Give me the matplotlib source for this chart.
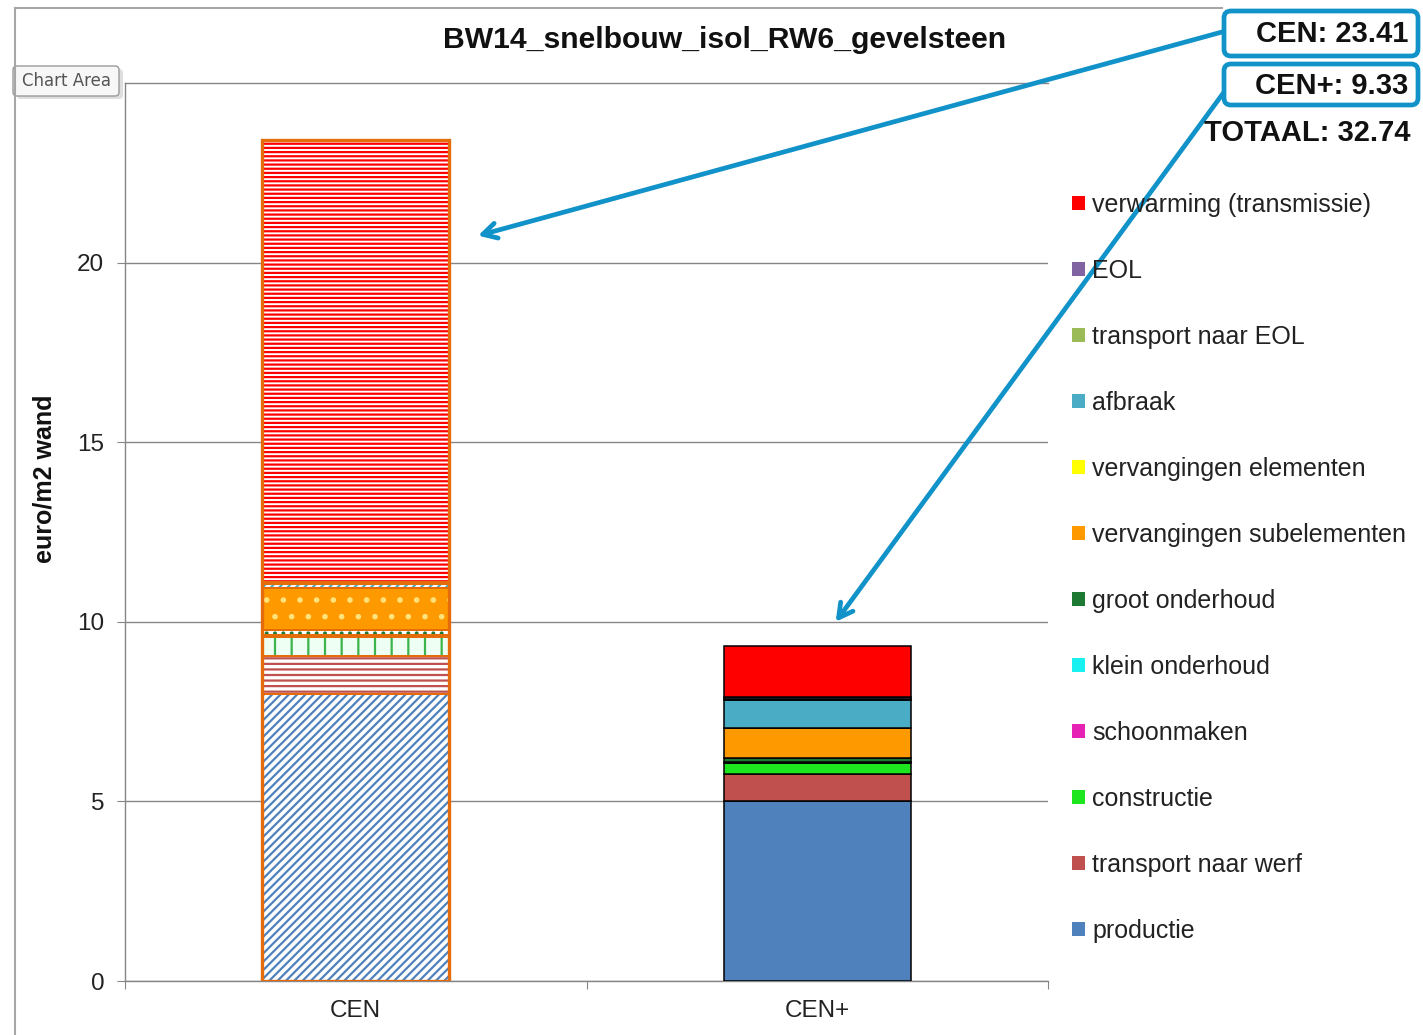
import matplotlib
matplotlib.use("Agg")
import matplotlib.pyplot as plt
import numpy as np
from matplotlib.lines import Line2D
from matplotlib.patches import FancyBboxPatch, Patch
from matplotlib.transforms import IdentityTransform

plt.rcParams["font.family"] = ["Liberation Sans", "DejaVu Sans"]
plt.rcParams["hatch.linewidth"] = 1.6

W, H = 1423, 1035

title = "BW14_snelbouw_isol_RW6_gevelsteen"
categories = ["CEN", "CEN+"]

# stacking order, bottom to top
series = [
    "productie",
    "transport naar werf",
    "constructie",
    "schoonmaken",
    "klein onderhoud",
    "groot onderhoud",
    "vervangingen subelementen",
    "vervangingen elementen",
    "afbraak",
    "transport naar EOL",
    "EOL",
    "verwarming (transmissie)",
]
cen_values = [8.00, 1.06, 0.52, 0.03, 0.03, 0.12, 1.17, 0.02, 0.10, 0.03, 0.03, 12.30]
cen_plus_values = [5.00, 0.76, 0.30, 0.02, 0.02, 0.10, 0.83, 0.00, 0.78, 0.05, 0.05, 1.42]
totals = {"CEN": 23.41, "CEN+": 9.33}
grand_total = 32.74

colors = [
    "#4F81BD", "#C0504D", "#1EE61E", "#E622B4", "#19F0F0", "#1E7A33",
    "#FF9900", "#FFFF00", "#4BACC6", "#9BBB59", "#8064A2", "#FF0000",
]
# hatched look of the selected CEN column: (face, hatch, hatch colour)
cen_styles = [
    ("#FFFFFF", "////", "#4F81BD"),
    ("#FFFFFF", "---", "#C0504D"),
    ("#EEFFF3", "|", "#3CB44B"),
    ("#FFFFFF", "..", "#E622B4"),
    ("#FFFFFF", "..", "#19F0F0"),
    ("#FFFFFF", "..", "#1E7A33"),
    ("#FF9900", ".", "#FFE27A"),
    ("#FFFFFF", "////", "#E8C84A"),
    ("#FFFFFF", "////", "#4BACC6"),
    ("#FFFFFF", "////", "#9BBB59"),
    ("#FFFFFF", "////", "#8064A2"),
    ("#FFFFFF", "----", "#FF0000"),
]
sel_orange = "#E46C0A"
blue = "#1192C8"
gray = "#868686"


def fx(px):
    return px / W


def fy(py):
    return 1 - py / H


fig = plt.figure(figsize=(W / 100, H / 100), dpi=100)
ax = fig.add_axes([fx(125), fy(981), fx(1048) - fx(125), fy(83) - fy(981)])

x = np.arange(len(categories))
width = 0.405

# CEN column (hatched, selected)
bottom = 0.0
for val, (face, hatch, hcol) in zip(cen_values, cen_styles):
    ax.bar(x[0], val, width, bottom=bottom, color=face, hatch=hatch,
           edgecolor=hcol, linewidth=0, zorder=3)
    ax.bar(x[0], val, width, bottom=bottom, fill=False,
           edgecolor=sel_orange, linewidth=1.4, zorder=4)
    bottom += val
ax.bar(x[0], sum(cen_values), width, fill=False, edgecolor=sel_orange,
       linewidth=2.4, zorder=5)

# CEN+ column (solid)
bottom = 0.0
for val, col in zip(cen_plus_values, colors):
    ax.bar(x[1], val, width, bottom=bottom, color=col, edgecolor="black",
           linewidth=1.1, zorder=3)
    bottom += val

ax.set_xlim(-0.5, 1.5)
ax.set_ylim(0, 25)
ax.set_yticks([0, 5, 10, 15, 20])
ax.yaxis.grid(True, color=gray, linewidth=1.0, zorder=0)
ax.set_axisbelow(True)
ax.tick_params(axis="y", direction="out", length=6, color=gray, pad=9,
               labelsize=17.5, labelcolor="#222222")
ax.set_xticks([-0.5, 0.5, 1.5])
ax.set_xticklabels([])
ax.set_xticks(x, minor=True)
ax.set_xticklabels(categories, minor=True)
ax.tick_params(axis="x", which="major", direction="out", length=6, color=gray)
ax.tick_params(axis="x", which="minor", length=0, pad=14, labelsize=17.5,
               labelcolor="#222222")
for side in ("left", "bottom", "top"):
    ax.spines[side].set_color(gray)
    ax.spines[side].set_linewidth(1.0)
ax.spines["right"].set_visible(False)

fig.text(fx(725), fy(40), title, ha="center", va="center", fontsize=21.7,
         fontweight="bold", color="#111111")
fig.text(fx(45), fy(479), "euro/m2 wand", ha="center", va="center",
         rotation=90, fontsize=18, fontweight="bold", color="#111111")

handles = [Patch(facecolor=c, edgecolor="none") for c in colors][::-1]
fig.legend(handles, series[::-1], loc="upper left",
           bbox_to_anchor=(fx(1072), fy(193)), frameon=False, fontsize=18,
           handlelength=0.5, handleheight=0.5, handletextpad=0.3,
           labelspacing=1.68, borderaxespad=0, borderpad=0,
           labelcolor="#222222")

# chart area outline
fig.add_artist(Line2D([fx(15), fx(1222)], [fy(8), fy(8)], color="#A6A6A6",
                      linewidth=1.5))
fig.add_artist(Line2D([fx(15), fx(15)], [fy(8), fy(1035)], color="#A6A6A6",
                      linewidth=1.5))

# "Chart Area" hover tip
ident = IdentityTransform()
fig.add_artist(FancyBboxPatch((17, H - 99), 106, 30,
                              boxstyle="round,pad=0,rounding_size=4",
                              transform=ident, facecolor="#C8C8C8",
                              edgecolor="none", alpha=0.6))
fig.add_artist(FancyBboxPatch((13, H - 96), 106, 30,
                              boxstyle="round,pad=0,rounding_size=4",
                              transform=ident, facecolor="#F7F7F7",
                              edgecolor="#9A9A9A", linewidth=1.0))
fig.text(fx(66), fy(81), "Chart Area", ha="center", va="center",
         fontsize=12, color="#555555", family=["DejaVu Sans"])

# callout boxes with totals
for (py0, py1), label in [((11, 56), f"CEN: {totals['CEN']:.2f}"),
                          ((64, 105), f"CEN+: {totals['CEN+']:.2f}")]:
    fig.add_artist(FancyBboxPatch((1224, H - py1), 194, py1 - py0,
                                  boxstyle="round,pad=0,rounding_size=7",
                                  transform=ident, facecolor="white",
                                  edgecolor=blue, linewidth=3.4, zorder=6))
    fig.text(fx(1408), fy((py0 + py1) / 2 + 1), label, ha="right",
             va="center", fontsize=21, fontweight="bold", color="#111111",
             zorder=7)
fig.text(fx(1410), fy(133), f"TOTAAL: {grand_total:.2f}", ha="right",
         va="center", fontsize=21, fontweight="bold", color="#111111")

arrow = dict(arrowstyle="->,head_length=1.0,head_width=0.55", color=blue,
             linewidth=3.4, shrinkA=0, shrinkB=0)
ax.annotate("", xy=(0.265, 20.75), xycoords="data",
            xytext=(fx(1222), fy(32)), textcoords="figure fraction",
            arrowprops=arrow, annotation_clip=False, zorder=8)
ax.annotate("", xy=(1.04, 10.0), xycoords="data",
            xytext=(fx(1227), fy(88)), textcoords="figure fraction",
            arrowprops=arrow, annotation_clip=False, zorder=8)

fig.savefig("out.png", dpi=100, facecolor="white")
